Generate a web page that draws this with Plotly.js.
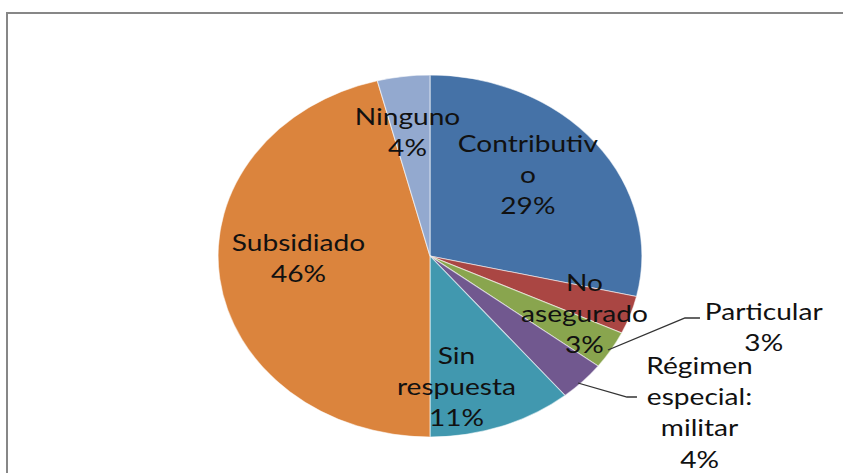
<!DOCTYPE html>
<html>
<head>
<meta charset="utf-8">
<script src="https://cdn.plot.ly/plotly-3.0.1.min.js"></script>
<style>
  html, body { margin: 0; padding: 0; width: 843px; height: 473px; overflow: hidden; background: #fff; }
  #wrap { position: absolute; left: 0; top: 0; width: 720px; height: 473px; transform: scaleX(1.1708); transform-origin: 0 0; }
  #frame { position: absolute; left: 6px; top: 12px; width: 1000px; height: 1000px; border-left: 2px solid #878787; border-top: 2px solid #878787; pointer-events: none; }
</style>
</head>
<body>
<div id="wrap"><div id="chart" style="width:720px;height:473px;"></div></div>
<div id="frame"></div>
<script>
// ---- data ----
const categories = ["Contributivo", "No asegurado", "Particular", "Régimen especial: militar", "Sin respuesta", "Subsidiado", "Ninguno"];
const values = [28.6, 3.4, 3.4, 3.6, 11.0, 46.0, 4.0];
const displayLabels = ["Contributiv<br>o", "No<br>asegurado", "Particular", "Régimen<br>especial:<br>militar", "Sin<br>respuesta", "Subsidiado", "Ninguno"];
const colors = ["#4572A7", "#AA4643", "#89A54E", "#71588F", "#4198AF", "#DB843D", "#93A9CF"];

// ---- layout helpers (screen px -> paper) ----
const SX = 843 / 720;
const W = 720, H = 473;
const px = x => x / SX / W;
const py = y => 1 - y / H;

// label block centres in screen pixels
const labelPos = [[528, 174], [584, 312], [764, 326], [699, 411], [457, 385], [299, 257], [408, 131]];

const total = values.reduce((a, b) => a + b, 0);
const annotations = categories.map((c, i) => ({
  xref: "paper", yref: "paper",
  x: px(labelPos[i][0]), y: py(labelPos[i][1]),
  xanchor: "center", yanchor: "middle",
  text: displayLabels[i] + "<br>" + Math.round(values[i] / total * 100) + "%",
  showarrow: false,
  align: "center",
  font: { family: "Lato, 'Open Sans', sans-serif", size: 24, color: "#111" }
}));

const leader = pts => "M " + pts.map(p => px(p[0]) + "," + py(p[1])).join(" L ");
const shapes = [
  { type: "path", xref: "paper", yref: "paper", path: leader([[608, 350], [685, 318], [700, 318]]), line: { color: "#333", width: 1.3 } },
  { type: "path", xref: "paper", yref: "paper", path: leader([[578, 383], [627, 397], [637, 397]]), line: { color: "#333", width: 1.3 } }
];

const cx = 430 / SX, r = 181;
const trace = {
  type: "pie",
  labels: categories,
  values: values,
  sort: false,
  direction: "clockwise",
  rotation: 0,
  textinfo: "none",
  hoverinfo: "label+percent",
  marker: { colors: colors, line: { color: "rgba(255,255,255,0.55)", width: 1 } },
  domain: { x: [(cx - r) / W, (cx + r) / W], y: [py(437), py(75)] },
  showlegend: false
};

Plotly.newPlot("chart", [trace], {
  width: W, height: H,
  margin: { l: 0, r: 0, t: 0, b: 0 },
  paper_bgcolor: "rgba(0,0,0,0)",
  showlegend: false,
  annotations: annotations,
  shapes: shapes
}, { displayModeBar: false, staticPlot: true });
</script>
</body>
</html>
